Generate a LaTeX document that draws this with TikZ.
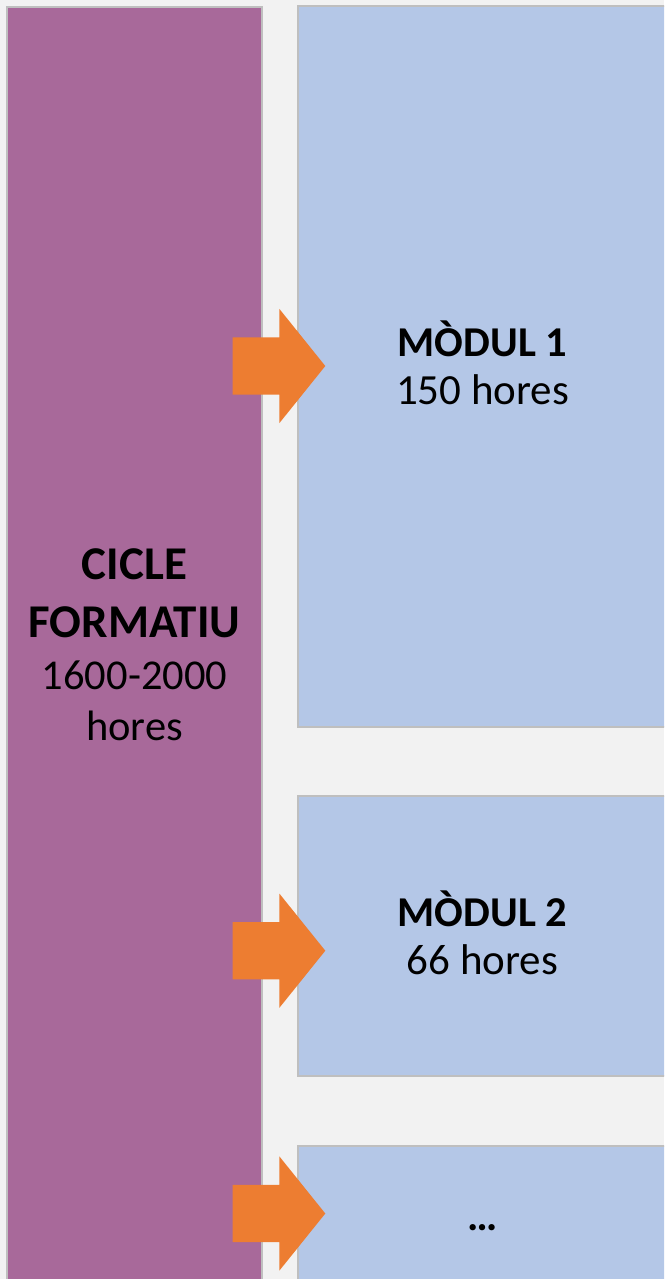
\documentclass[tikz,border=0pt]{standalone}
\usepackage{fontspec}
\setmainfont{Carlito}
\definecolor{bgc}{HTML}{F2F2F2}
\definecolor{purplec}{HTML}{A8699A}
\definecolor{bluec}{HTML}{B4C7E7}
\definecolor{orangec}{HTML}{ED7D31}
\definecolor{edgec}{HTML}{BFBFBF}
\tikzset{
  purplebox/.style={fill=purplec, draw=edgec, line width=2pt},
  bluebox/.style={fill=bluec, draw=edgec, line width=2pt},
  blockarrow/.style={fill=orangec, draw=none},
  lbold/.style={anchor=base, inner sep=0pt, font=\fontsize{47}{50}\selectfont\bfseries},
  lreg/.style={anchor=base, inner sep=0pt, font=\fontsize{42.5}{50}\selectfont},
  rbold/.style={anchor=base, inner sep=0pt, font=\fontsize{42.5}{50}\selectfont\bfseries},
  rreg/.style={anchor=base, inner sep=0pt, font=\fontsize{43}{50}\selectfont},
}
\newcommand{\blockarr}[1]{%
  \fill[blockarrow] (232.7,#1-28.6) -- (279.3,#1-28.6) -- (279.3,#1-57.2) -- (325.3,#1)
    -- (279.3,#1+57.2) -- (279.3,#1+28.6) -- (232.7,#1+28.6) -- cycle;}
\begin{document}
\begin{tikzpicture}[x=1pt,y=-1pt]
\useasboundingbox (0,0) rectangle (664,1279);
\fill[bgc] (0,0) rectangle (664,1279);
\begin{scope}
\clip (0,0) rectangle (664,1279);
\draw[purplebox] (7,7) rectangle (261.5,1300);
\draw[bluebox] (297.5,6.5) rectangle (675,726.5);
\draw[bluebox] (297.5,795.5) rectangle (675,1076);
\draw[bluebox] (297.5,1145.5) rectangle (675,1300);
\blockarr{366}
\blockarr{950.7}
\blockarr{1213.5}
\end{scope}
\node[lbold] (c1) at (134.5,579) {CICLE};
\node[lbold] (c2) at (134.5,637.5) {FORMATIU};
\node[lreg] (c3) at (134.5,689.5) {1600-2000};
\node[lreg] (c4) at (134.5,740) {hores};
\node[rbold] (m1) at (482.5,356) {MÒDUL 1};
\node[rreg] (h1) at (482.5,404.5) {150 hores};
\node[rbold] (m2) at (482.5,926) {MÒDUL 2};
\node[rreg] (h2) at (482.5,974.5) {66 hores};
\node[rbold] (m3) at (482.5,1230) {…};
\end{tikzpicture}
\end{document}
